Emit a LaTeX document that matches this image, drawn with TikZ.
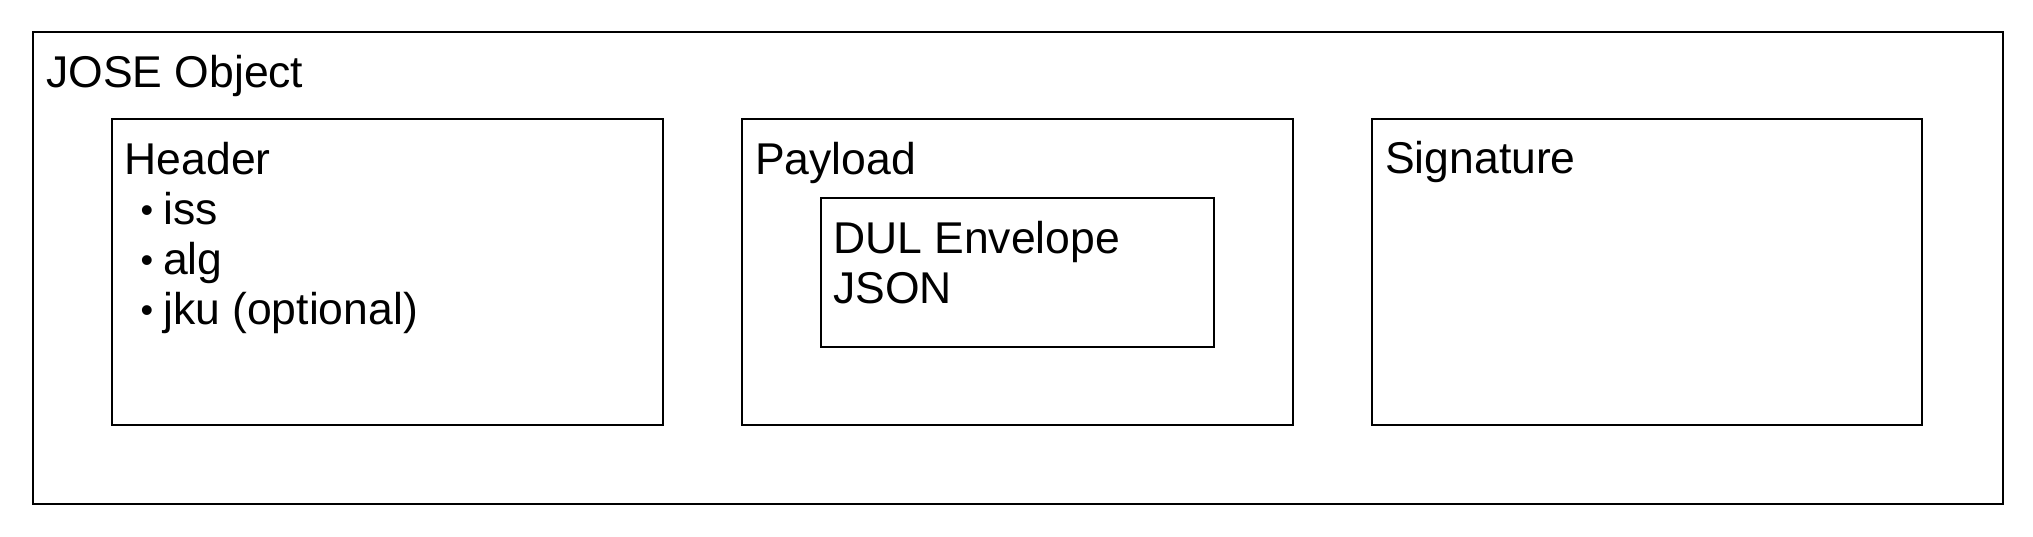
\documentclass[tikz,border=0pt]{standalone}
\usepackage{fontspec}
\setmainfont{Liberation Sans}
\begin{document}
\begin{tikzpicture}[x=1pt,y=-1pt,
  box/.style={draw=black, line width=2.4pt, rectangle, inner sep=0pt, anchor=north west},
  lbl/.style={inner sep=0pt, anchor=base west, font=\fontsize{44.5}{50}\selectfont},
  bul/.style={inner sep=0pt, anchor=base, font=\fontsize{36}{50}\selectfont}]
\useasboundingbox[fill=white] (0,0) rectangle (2033,536);
% outer
\node[box, minimum width=1970pt, minimum height=472pt] (outer) at (32,31) {};
\node[lbl] (tjose) at (46,87) {JOSE Object};
% header
\node[box, minimum width=551pt, minimum height=306pt] (header) at (110.5,118) {};
\node[lbl] (theader) at (124.5,174) {Header};
\node[bul] (b1) at (147,222) {•};
\node[lbl] (t1) at (163,224) {iss};
\node[bul] (b2) at (147,272) {•};
\node[lbl] (t2) at (163,274) {alg};
\node[bul] (b3) at (147,322) {•};
\node[lbl] (t3) at (163,324) {jku (optional)};
% payload
\node[box, minimum width=551pt, minimum height=306pt] (payload) at (740.5,118) {};
\node[lbl] (tpayload) at (755,174) {Payload};
\node[box, minimum width=393pt, minimum height=149pt] (dul) at (820,197) {};
\node[lbl] (tdul1) at (833,253) {DUL Envelope};
\node[lbl] (tdul2) at (833,303) {JSON};
% signature
\node[box, minimum width=550pt, minimum height=306pt] (signature) at (1371,118) {};
\node[lbl] (tsig) at (1385,173) {Signature};
\end{tikzpicture}
\end{document}
